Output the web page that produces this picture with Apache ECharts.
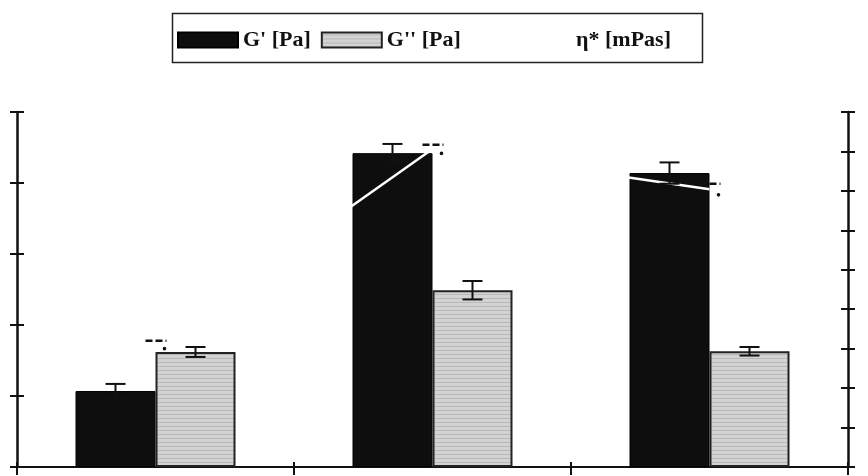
<!DOCTYPE html>
<html>
<head>
<meta charset="UTF-8">
<title>G' / G'' / eta*</title>
<script src="https://cdn.jsdelivr.net/npm/echarts@6/dist/echarts.min.js"></script>
<style>
    html,body{margin:0;padding:0;background:#fff;}
    #chart{width:868px;height:476px;}
</style>
</head>
<body>
<div id="chart"></div>
<script type="text/javascript">
// data (no tick labels in the scan, so axes are in tick units)
var categories = ['1', '2', '3'];
var storageVals = [1.07, 4.42, 4.14];   // G' [Pa], left axis
var storageErr  = [0.10, 0.13, 0.15];
var lossVals    = [1.62, 2.49, 1.63];   // G'' [Pa], left axis
var lossErr     = [0.07, 0.13, 0.06];
var etaVals     = [3.10, 8.06, 7.04];   // eta* [mPas], right axis
var etaErr      = [0.10, 0.11, 0.14];
var leftTicks   = [0, 1, 2, 3, 4, 5];
var rightTicks  = [0, 1, 2, 3, 4, 5, 6, 7, 8, 9];
var seriesNames = ["G' [Pa]", "G'' [Pa]", "η* [mPas]"];

var BAR_W = 80;
var INK = '#111';

// striped grey fill for G''
var stripe = document.createElement('canvas');
stripe.width = 4; stripe.height = 4;
var sc = stripe.getContext('2d');
sc.fillStyle = '#d3d3d3'; sc.fillRect(0, 0, 4, 4);
sc.fillStyle = '#b8b8b8'; sc.fillRect(0, 2, 4, 1);
var lossFill = {image: stripe, repeat: 'repeat'};

function errData(vals, errs) {
    return vals.map(function (v, i) { return [i, v, errs[i]]; });
}

// plain error bar, shifted onto its bar
function barErr(offset) {
    return function (params, api) {
        var i = api.value(0), v = api.value(1), e = api.value(2);
        var hi = api.coord([i, v + e]);
        var lo = api.coord([i, v - e]);
        var x = hi[0] + offset;
        var st = {stroke: INK, lineWidth: 2};
        return {type: 'group', children: [
            {type: 'line', shape: {x1: x, y1: hi[1], x2: x, y2: lo[1]}, style: st},
            {type: 'line', shape: {x1: x - 10, y1: hi[1], x2: x + 10, y2: hi[1]}, style: st},
            {type: 'line', shape: {x1: x - 10, y1: lo[1], x2: x + 10, y2: lo[1]}, style: st}
        ]};
    };
}

// eta* error marks: dashed cap above, dot below
function etaErrItem(params, api) {
    var i = api.value(0), v = api.value(1), e = api.value(2);
    var hi = api.coord([i, v + e]);
    var lo = api.coord([i, v - e]);
    var x = hi[0];
    return {type: 'group', children: [
        {type: 'line', shape: {x1: x - 10, y1: hi[1], x2: x + 11, y2: hi[1]},
         style: {stroke: INK, lineWidth: 2.5, lineDash: [7, 3]}},
        {type: 'circle', shape: {cx: x + 9, cy: lo[1], r: 1.8}, style: {fill: INK}}
    ]};
}

var chart = echarts.init(document.getElementById('chart'));

function yAx(pos, max, inside, showLine) {
    return {
        type: 'value', position: pos, min: 0, max: max, interval: 1,
        axisLine: {show: showLine, lineStyle: {color: INK, width: 2.5}},
        axisTick: {show: true, inside: inside, length: 7, lineStyle: {color: INK, width: 2}},
        axisLabel: {show: false},
        splitLine: {show: false}
    };
}

var legendText = {fontFamily: 'Liberation Serif', fontSize: 22, fontWeight: 'bold', color: INK};

var option = {
    animation: false,
    backgroundColor: '#fff',
    grid: {left: 17, right: 20, top: 112, bottom: 9},
    graphic: [{
        type: 'rect', left: 170, top: 11,
        shape: {width: 530, height: 49},
        style: {fill: 'none', stroke: '#222', lineWidth: 1.5}
    }],
    legend: [{
        data: [seriesNames[0], seriesNames[1]],
        left: 172, top: 24, icon: 'rect',
        itemWidth: 60, itemHeight: 15, itemGap: 10,
        textStyle: legendText
    }, {
        data: [seriesNames[2]],
        left: 505, top: 24,
        itemWidth: 60, itemHeight: 15,
        textStyle: legendText
    }],
    xAxis: [{
        type: 'category', data: categories, position: 'bottom',
        axisLine: {lineStyle: {color: INK, width: 2}},
        axisTick: {show: true, length: 8, lineStyle: {color: INK, width: 2}},
        axisLabel: {show: false},
        splitLine: {show: false}
    }, {
        type: 'category', data: categories, position: 'bottom',
        axisLine: {show: false},
        axisTick: {show: true, inside: true, length: 5, lineStyle: {color: INK, width: 2}},
        axisLabel: {show: false},
        splitLine: {show: false}
    }],
    yAxis: [
        yAx('left', leftTicks[leftTicks.length - 1], false, true),
        yAx('left', leftTicks[leftTicks.length - 1], true, false),
        yAx('right', rightTicks[rightTicks.length - 1], false, true),
        yAx('right', rightTicks[rightTicks.length - 1], true, false)
    ],
    series: [{
        name: seriesNames[0], type: 'bar', data: storageVals,
        barWidth: BAR_W, barGap: '0%', z: 2,
        itemStyle: {color: '#0e0e0e', borderColor: '#000', borderWidth: 1}
    }, {
        name: seriesNames[1], type: 'bar', data: lossVals,
        barWidth: BAR_W, barGap: '0%', z: 2,
        itemStyle: {color: lossFill, borderColor: '#222', borderWidth: 2}
    }, {
        name: seriesNames[2], type: 'line', data: etaVals, yAxisIndex: 2,
        symbol: 'none', z: 4,
        lineStyle: {color: '#fff', width: 2.5},
        itemStyle: {color: '#fff'}
    }, {
        type: 'custom', data: errData(storageVals, storageErr), z: 5,
        renderItem: barErr(-BAR_W / 2)
    }, {
        type: 'custom', data: errData(lossVals, lossErr), z: 5,
        renderItem: barErr(BAR_W / 2)
    }, {
        type: 'custom', data: errData(etaVals, etaErr), yAxisIndex: 2, z: 5,
        renderItem: etaErrItem
    }]
};
chart.setOption(option);
</script>
</body>
</html>
